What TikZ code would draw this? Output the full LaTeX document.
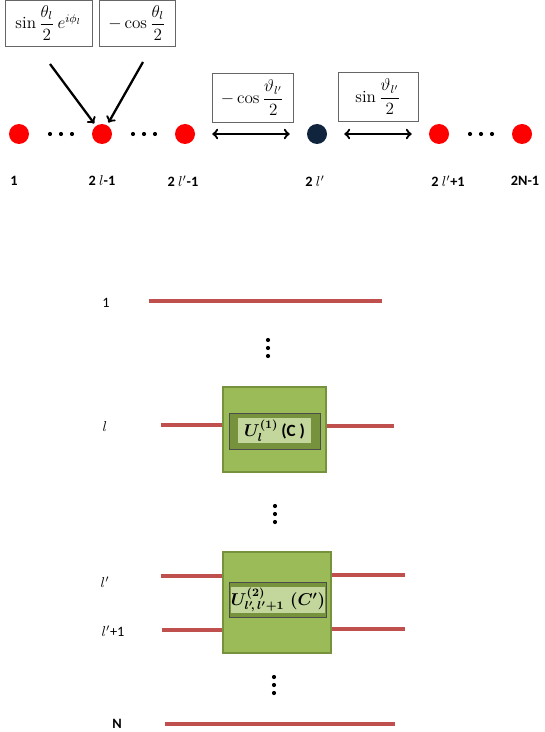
\documentclass[tikz,border=0pt]{standalone}
\usepackage{amsmath}
\usepackage{fontspec}
\setsansfont{Carlito}
\usetikzlibrary{positioning}

\definecolor{dotred}{RGB}{255,0,0}
\definecolor{dotnavy}{RGB}{16,36,62}
\definecolor{wirered}{RGB}{192,80,77}
\definecolor{gatefill}{RGB}{155,187,89}
\definecolor{gateedge}{RGB}{118,146,60}
\definecolor{gatelight}{RGB}{195,214,155}

\newcommand{\PX}{0.7pt}

\tikzset{
	site/.style={circle, fill=dotred, inner sep=0pt, minimum size=20*\PX},
	pip/.style={circle, fill=black, inner sep=0pt, minimum size=4.2*\PX},
	coef/.style={draw=black!60, line width=0.5pt, inner sep=2pt, minimum height=46*\PX, font=\large},
	sitelabel/.style={font=\sffamily\bfseries},
	wirelabel/.style={font=\sffamily},
	wire/.style={wirered, line width=2.4pt},
	gate/.style={draw=gateedge, fill=gatefill, line width=1.8pt},
	gatecore/.style={draw=black!70, fill=gateedge, line width=0.6pt},
	gatetag/.style={fill=gatelight, inner sep=0pt, font=\large},
	hop/.style={<->, line width=1.6pt, shorten <=17*\PX, shorten >=17*\PX},
	feed/.style={->, line width=1.6pt, shorten >=2pt},
}

\begin{document}
\begin{tikzpicture}[x=\PX, y=-\PX]
	\useasboundingbox (0,0) rectangle (545,732);
	% chain of sites
	\node[site](A) at (19,134){};
	\node[site](B) at (102,134){};
	\node[site](C) at (185,134){};
	\node[site, fill=dotnavy](D) at (317,134){};
	\node[site](E) at (439,134){};
	\node[site](F) at (522,134){};
	\foreach \x [count=\i] in {61,144,481}
		\foreach \k in {-1,0,1}
			\node[pip](h\i\k) at (\x+11*\k,134){};
	\node[sitelabel] at (14,181){1};
	\node[sitelabel] at (102,181){2 $l$-1};
	\node[sitelabel] at (183,181){2 $l'$-1};
	\node[sitelabel] at (315,181){2 $l'$};
	\node[sitelabel] at (448,181){2 $l'$+1};
	\node[sitelabel] at (525,181){2N-1};
	% coefficients
	\node[coef, minimum width=87*\PX](P) at (48.5,23){$\sin\dfrac{\theta_l}{2}\,e^{i\phi_l}$};
	\node[coef, minimum width=76*\PX](Q) at (137,23){$-\cos\dfrac{\theta_l}{2}$};
	\node[coef, minimum width=81*\PX, minimum height=49*\PX](R) at (252.5,97.5){$-\cos\dfrac{\vartheta_{l'}}{2}$};
	\node[coef, minimum width=80*\PX, minimum height=49*\PX](S) at (378,96.5){$\sin\dfrac{\vartheta_{l'}}{2}$};
	\coordinate(P0) at (50,64);
	\coordinate(Q0) at (143,62);
	\draw[feed] (P0) -- (B);
	\draw[feed] (Q0) -- (B);
	\draw[hop] (C) -- (D);
	\draw[hop] (D) -- (E);
	% circuit
	\node[wirelabel] at (106,303){1};
	\draw[wire] (149,301) -- (382,301);
	\foreach \x/\y [count=\i] in {268/348,275/514,274/685}
		\foreach \k in {-1,0,1}
			\node[pip](v\i\k) at (\x,\y+8*\k){};
	\node[gate, minimum width=103*\PX, minimum height=85*\PX](G) at (274.5,429.5){};
	\node[gatecore, minimum width=91*\PX, minimum height=36*\PX](Gc) at (274.5,431){};
	\node[gatetag, minimum width=73*\PX, minimum height=25*\PX](Gt) at (274.5,430.5){{\boldmath$U_l^{(1)}$}\,{\sffamily\bfseries (C )}};
	\node[wirelabel] at (105,427){$l$};
	\coordinate(La) at (161,425);
	\coordinate(Lb) at (394,426);
	\draw[wire] (La) -- (La -| G.west);
	\draw[wire] (Lb -| G.east) -- (Lb);
	\node[gate, minimum width=108*\PX, minimum height=101*\PX](H) at (277,602.5){};
	\node[gatecore, minimum width=97*\PX, minimum height=35*\PX](Hc) at (277.5,599.5){};
	\node[gatetag, minimum width=80*\PX, minimum height=26*\PX](Ht) at (278,600){{\boldmath$U^{(2)}_{l^\prime\!,\,l^\prime+1}$}\ {\boldmath$(C^\prime)$}};
	\node[wirelabel] at (105,582){$l^\prime$};
	\node[wirelabel] at (113,631){$l^\prime$+1};
	\coordinate(Ma) at (161,576);
	\coordinate(Mb) at (405,575);
	\coordinate(Na) at (162,630);
	\coordinate(Nb) at (405,629);
	\draw[wire] (Ma) -- (Ma -| H.west);
	\draw[wire] (Mb -| H.east) -- (Mb);
	\draw[wire] (Na) -- (Na -| H.west);
	\draw[wire] (Nb -| H.east) -- (Nb);
	\node[wirelabel, font=\sffamily\bfseries] at (117,724){N};
	\draw[wire] (165,724) -- (395,724);
\end{tikzpicture}
\end{document}
